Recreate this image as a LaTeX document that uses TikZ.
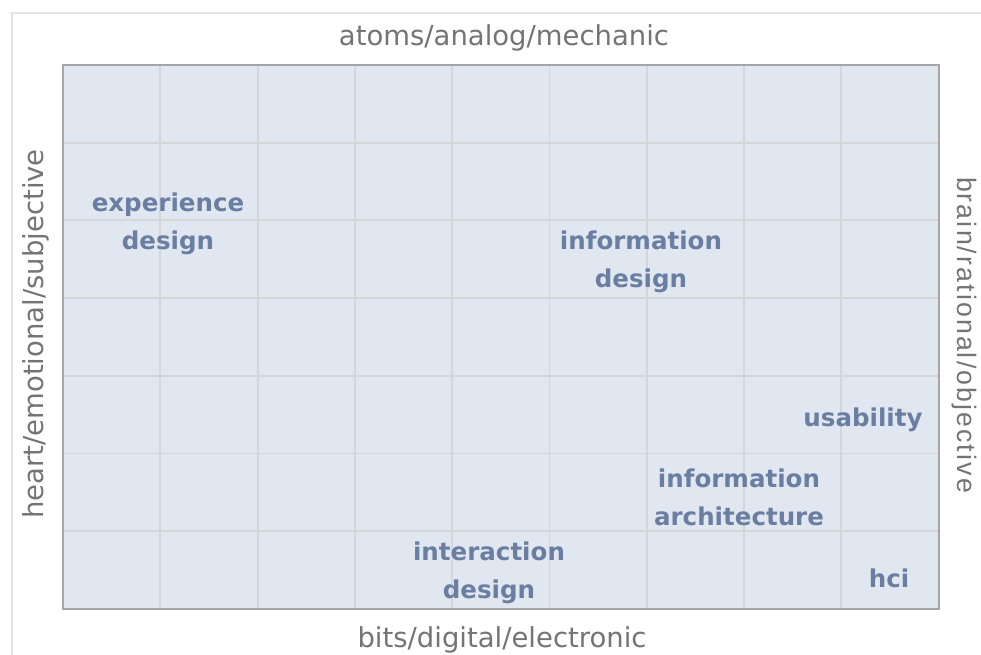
\documentclass[tikz,border=0pt]{standalone}
\usepackage{fontspec}
\setmainfont{DejaVu Sans}
\newfontfamily\armfont[LetterSpace=8]{Liberation Sans}
\definecolor{cellfill}{HTML}{E1E7F1}
\definecolor{gridline}{HTML}{D5D6D8}
\definecolor{frameedge}{HTML}{A3A5A8}
\definecolor{fieldtxt}{HTML}{6A7EA2}
\definecolor{axistxt}{HTML}{747474}
\definecolor{pageedge}{HTML}{E4E4E4}
\begin{document}
\begin{tikzpicture}[x=0.75pt,y=-0.75pt,
  field/.style={text=fieldtxt,align=center,inner sep=0pt,
    font=\fontsize{18.4}{28.5}\selectfont\bfseries},
  axis/.style={text=axistxt,inner sep=0pt,font=\fontsize{20.6}{24}\selectfont}]
  \useasboundingbox (0,0) rectangle (981,655);
  \fill[white] (0,0) rectangle (981,655);
  % page edge, top and left
  \draw[pageedge,line width=1.5pt] (10,13) -- (981,13);
  \draw[pageedge,line width=1.5pt] (12,13) -- (12,655);
  % the field and its 9 x 7 grid
  \fill[cellfill] (63,65) rectangle (938.7,608.9);
  \foreach \i in {1,...,8}
    \draw[gridline,line width=1.4pt] (63+\i*97.3,65) -- (63+\i*97.3,608.9);
  \foreach \j in {1,...,6}
    \draw[gridline,line width=1.4pt] (63,65+\j*77.7) -- (938.7,65+\j*77.7);
  \draw[frameedge,line width=1.4pt] (63,65) rectangle (938.7,608.9);
  % axes
  \node[axis] (top) at (504,38) {atoms/analog/mechanic};
  \node[axis] (bottom) at (502,640) {bits/digital/electronic};
  \node[axis,rotate=90] (left) at (36,334) {heart/emotional/subjective};
  \node[axis,rotate=-90,font=\armfont\fontsize{20}{24}\selectfont] (right) at (964,335) {brain/rational/objective};
  % disciplines
  \node[field] (xd) at (168,224) {experience\\design};
  \node[field] (id) at (641,262) {information\\design};
  \node[field] (us) at (863,420) {usability};
  \node[field] (ia) at (739,497) {information\\architecture};
  \node[field] (ixd) at (489,573) {interaction\\design};
  \node[field] (hci) at (889,578) {hci};
\end{tikzpicture}
\end{document}
